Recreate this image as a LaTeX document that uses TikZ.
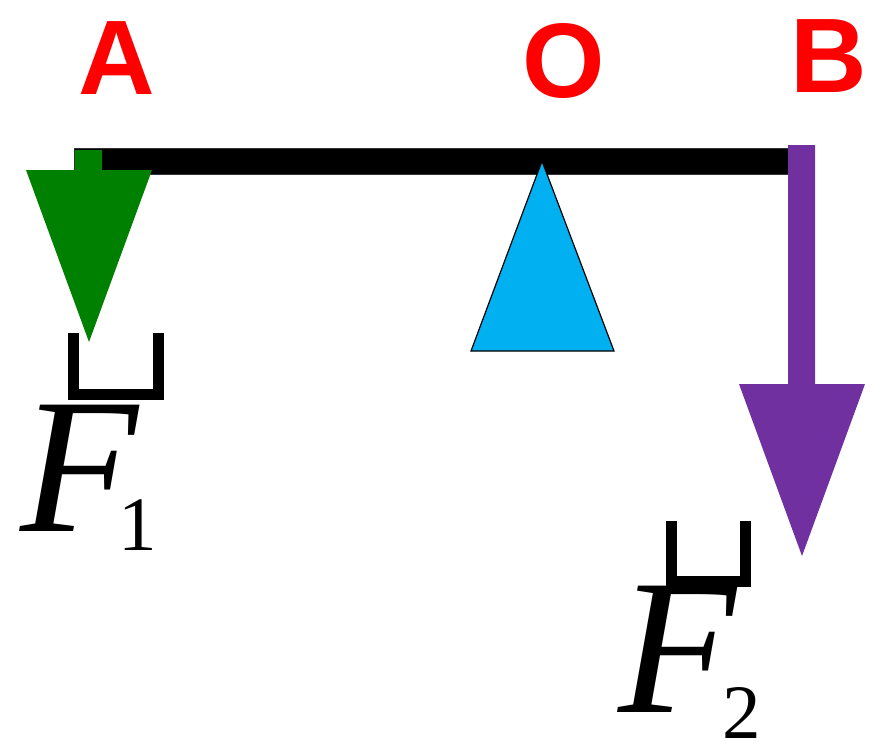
\documentclass[tikz,border=0pt]{standalone}
\usepackage{fontspec}
\setmainfont{Liberation Serif}
\newfontfamily\labelfont{Liberation Sans}
\usetikzlibrary{positioning}
\definecolor{forcegreen}{HTML}{008000}
\definecolor{forcepurple}{HTML}{7030A0}
\definecolor{pivotblue}{HTML}{00B0F0}
\begin{document}
\begin{tikzpicture}[
        x=1pt, y=-1pt,
        point/.style={inner sep=0pt, text=red, font=\labelfont\bfseries\fontsize{106}{106}\selectfont, anchor=base},
        forcename/.style={inner sep=0pt, text depth=0pt, font=\itshape\fontsize{193}{193}\selectfont, anchor=base},
        forceidx/.style={inner sep=0pt, text depth=0pt, font=\fontsize{77}{77}\selectfont, anchor=base},
        cup/.style={draw=black, line width=11pt, miter limit=10}
    ]
    \useasboundingbox (0,0) rectangle (875,749);
    % Define points
    \node[point] (A) at (117,95) {A};
    \node[point] (O) at (564,98) {O};
    \node[point] (B) at (828.5,93) {B};
    % Lever and pivot
    \draw[fill=black, draw=black!80, line width=0.6pt] (74,148) rectangle (789,174);
    \draw[fill=pivotblue, draw=black, line width=1.2pt] (542,161) -- (614,351) -- (471,351) -- cycle;
    % Forces
    \fill[forcegreen] (75,150) -- (102,150) -- (102,170) -- (152,170) -- (89,342) -- (26,170) -- (75,170) -- cycle;
    \fill[forcepurple] (788,145) -- (815,145) -- (815,384) -- (865,384) -- (802,556) -- (739,384) -- (788,384) -- cycle;
    % Labels
    \draw[cup] (73.5,333) -- (73.5,394.5) -- (158.5,394.5) -- (158.5,333);
    \node[forcename] (F1) at (79,531) {F};
    \node[forceidx] (sub1) at (138,550) {1};
    \draw[cup] (671.5,521) -- (671.5,581.5) -- (745.5,581.5) -- (745.5,521);
    \node[forcename] (F2) at (677,712) {F};
    \node[forceidx] (sub2) at (742,738) {2};
\end{tikzpicture}
\end{document}
